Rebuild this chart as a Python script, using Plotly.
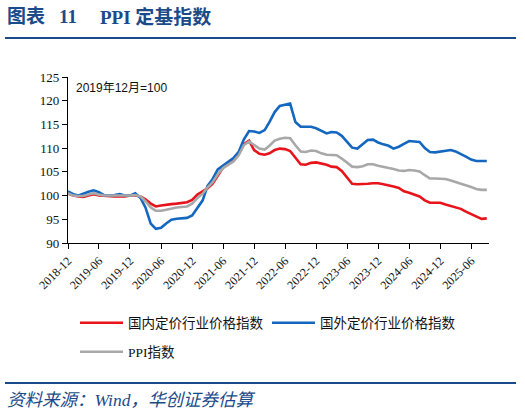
import pandas as pd
import plotly.graph_objects as go

# monthly index, 2019-12 = 100
domestic = [
    100.4, 100.0, 99.8, 99.7, 100.0, 100.3, 100.0, 99.9, 99.8, 99.8, 99.8, 99.8,
    100.0, 100.0, 99.8, 99.2, 98.3, 97.7, 97.9, 98.1, 98.2, 98.3, 98.5, 98.6,
    99.1, 100.2, 100.9, 101.5, 102.5, 104.3, 105.9, 106.8, 107.4, 108.8, 110.8, 111.6,
    109.6, 108.8, 108.6, 108.9, 109.6, 109.9, 109.8, 109.4, 108.0, 106.6, 106.5, 106.9,
    107.0, 106.8, 106.5, 106.1, 106.0, 105.2, 103.8, 102.5, 102.4, 102.4, 102.5, 102.6,
    102.6, 102.4, 102.2, 101.9, 101.6, 100.9, 100.6, 100.2, 99.8, 99.0, 98.5, 98.5,
    98.5, 98.1, 97.8, 97.5, 97.2, 96.6, 96.1, 95.6, 95.1, 95.2,
]
foreign = [
    100.9, 100.3, 100.0, 100.4, 100.8, 101.1, 100.7, 100.1, 100.0, 100.1, 100.3, 100.0,
    100.0, 100.5, 99.5, 97.5, 94.1, 93.0, 93.2, 94.1, 94.9, 95.1, 95.2, 95.3,
    95.8, 97.5, 99.0, 102.0, 103.5, 105.5, 106.3, 107.2, 107.9, 109.2, 111.8, 113.6,
    113.5, 113.2, 113.8, 115.5, 117.6, 118.9, 119.2, 119.4, 115.5, 114.5, 114.5, 114.5,
    114.2, 113.6, 113.1, 113.4, 113.3, 112.6, 111.3, 110.1, 109.9, 110.8, 111.7, 111.8,
    111.2, 110.8, 110.5, 109.9, 110.3, 110.9, 111.5, 111.4, 111.3, 110.0, 109.2, 109.1,
    109.3, 109.4, 109.6, 109.3, 108.8, 108.2, 107.6, 107.3, 107.3, 107.3,
]
ppi = [
    100.5, 100.0, 99.9, 99.9, 100.2, 100.5, 100.2, 100.0, 100.0, 100.0, 100.0, 99.9,
    100.0, 100.1, 99.8, 98.8, 97.5, 96.8, 96.8, 97.0, 97.3, 97.5, 97.6, 97.7,
    98.3, 99.5, 100.4, 101.7, 102.8, 104.5, 105.8, 106.5, 107.2, 108.5, 110.6, 111.4,
    110.6, 109.9, 109.7, 110.5, 111.6, 112.0, 112.2, 112.1, 110.6, 109.3, 109.2, 109.5,
    109.4, 108.9, 108.6, 108.5, 108.5, 107.8, 106.9, 106.1, 106.0, 106.2, 106.6, 106.6,
    106.3, 106.0, 105.8, 105.6, 105.3, 105.2, 105.4, 105.3, 105.1, 104.3, 103.6, 103.6,
    103.6, 103.5, 103.2, 102.9, 102.5, 102.2, 101.8, 101.4, 101.2, 101.2,
]
months = pd.date_range(start="2018-12-01", periods=len(ppi), freq="MS")

TITLE_BLUE = "#1B4A8A"
CJK = "Noto Sans CJK SC"
SERIF = "Liberation Serif, Noto Sans CJK SC"

# plot area in pixels (fixed margins)
L, R, T, B = 68, 489, 77, 243
PW, PH = R - L, B - T


def px(x):
    return (x - L) / PW


def py(y):
    return (B - y) / PH


fig = go.Figure()
fig.add_trace(go.Scatter(x=months, y=domestic, mode="lines", name="国内定价行业价格指数",
                         line=dict(color="#E8141C", width=2.6), legend="legend"))
fig.add_trace(go.Scatter(x=months, y=foreign, mode="lines", name="国外定价行业价格指数",
                         line=dict(color="#1467C0", width=2.6), legend="legend"))
fig.add_trace(go.Scatter(x=months, y=ppi, mode="lines", name="PPI指数",
                         line=dict(color="#A8A8A8", width=2.6), legend="legend2"))

legend_font = dict(family=SERIF, size=13.5, color="#111")
fig.update_layout(
    width=525, height=414,
    margin=dict(l=L, r=525 - R, t=T, b=414 - B, autoexpand=False),
    paper_bgcolor="white", plot_bgcolor="white",
    showlegend=True,
    legend=dict(orientation="h", x=px(75), xanchor="left", y=py(323), yanchor="middle",
                font=legend_font, entrywidth=134, itemwidth=43, bgcolor="rgba(0,0,0,0)"),
    legend2=dict(orientation="h", x=px(75), xanchor="left", y=py(352), yanchor="middle",
                 font=legend_font, itemwidth=43, bgcolor="rgba(0,0,0,0)"),
)

fig.update_xaxes(
    type="date", range=["2018-12-01", "2025-09-14"],
    tick0="2018-12-01", dtick="M6", tickformat="%Y-%m", tickangle=-45,
    showline=True, linecolor="black", linewidth=1.2, ticks="outside", ticklen=5,
    tickcolor="black", showgrid=False, zeroline=False,
    tickfont=dict(family=SERIF, size=12, color="#111"),
)
fig.update_yaxes(
    range=[90, 125], dtick=5, tick0=90,
    showline=True, linecolor="black", linewidth=1.2, ticks="outside", ticklen=5,
    tickcolor="black", showgrid=False, zeroline=False,
    tickfont=dict(family=SERIF, size=13, color="#111"),
)

# header pieces
title_font = dict(family=SERIF, size=19, color=TITLE_BLUE)
for text, x0 in [("<b>图表</b>", 5), ("<b>11</b>", 57), ("<b>PPI 定基指数</b>", 98)]:
    fig.add_annotation(xref="paper", yref="paper", x=px(x0), y=py(17), xanchor="left",
                       yanchor="middle", text=text, showarrow=False, font=title_font)

fig.add_annotation(xref="paper", yref="paper", x=px(74), y=py(88), xanchor="left", yanchor="middle",
                   text="2019年12月=100", showarrow=False,
                   font=dict(family="Liberation Sans, " + CJK, size=12, color="#111"))
fig.add_annotation(xref="paper", yref="paper", x=px(5), y=py(400), xanchor="left", yanchor="middle",
                   text="<i>资料来源：Wind，华创证券估算</i>", showarrow=False,
                   font=dict(family=SERIF, size=17.5, color=TITLE_BLUE))

# rules under the header and above the source line
for yline in (38, 383):
    fig.add_shape(type="line", xref="paper", yref="paper",
                  x0=px(5), x1=px(516), y0=py(yline), y1=py(yline),
                  line=dict(color=TITLE_BLUE, width=2))

# drop the default page margin so the figure sits at the window's corner
fig.write_html("out.html", config={"displayModeBar": False},
               post_script="document.body.style.margin = '0';")
